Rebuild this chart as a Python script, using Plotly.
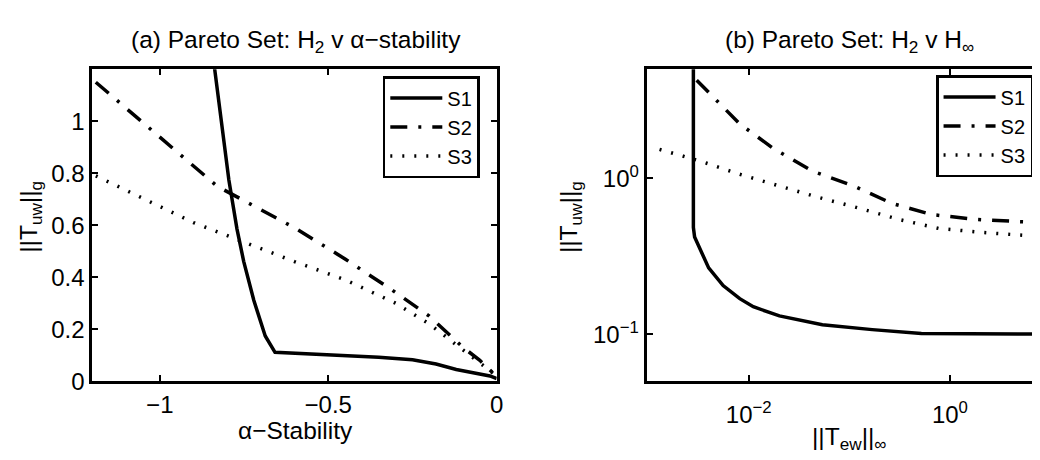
import plotly.graph_objects as go

# ---------------- data ----------------
series_names = ["S1", "S2", "S3"]

# (a) H2 vs alpha-stability
a_s1_x = [-0.842, -0.82, -0.795, -0.771, -0.751, -0.721, -0.687, -0.658, -0.5, -0.35, -0.25, -0.18, -0.12, -0.08, -0.02, 0.0]
a_s1_y = [1.25, 1.024, 0.774, 0.586, 0.461, 0.311, 0.174, 0.111, 0.102, 0.092, 0.082, 0.066, 0.045, 0.035, 0.02, 0.01]
a_s2_x = [-1.19, -0.83, -0.6, -0.45, -0.31, -0.2, -0.1, -0.05, -0.01]
a_s2_y = [1.15, 0.75, 0.59, 0.47, 0.35, 0.25, 0.13, 0.08, 0.03]
a_s3_x = [-1.19, -0.9, -0.6, -0.45, -0.3, -0.2, -0.1, -0.04, 0.0]
a_s3_y = [0.79, 0.61, 0.46, 0.39, 0.30, 0.22, 0.12, 0.06, 0.02]

# (b) H2 vs Hinf
b_s1_x = [0.00282, 0.00282, 0.0029, 0.00355, 0.0040, 0.00557, 0.00815, 0.0111, 0.0202, 0.054, 0.169, 0.52, 10.0]
b_s1_y = [6.0, 0.484, 0.42, 0.315, 0.266, 0.205, 0.169, 0.150, 0.131, 0.115, 0.107, 0.101, 0.100]
b_s2_x = [0.00304, 0.00815, 0.0174, 0.043, 0.107, 0.265, 0.66, 1.77, 4.9, 10.0]
b_s2_y = [4.25, 2.23, 1.56, 1.11, 0.90, 0.69, 0.585, 0.545, 0.527, 0.52]
b_s3_x = [0.0013, 0.00328, 0.00815, 0.0187, 0.047, 0.124, 0.309, 0.77, 2.04, 7.2, 10.0]
b_s3_y = [1.53, 1.29, 1.06, 0.90, 0.76, 0.644, 0.545, 0.477, 0.45, 0.425, 0.42]

a_xticks = [-1, -0.5, 0]
a_yticks = [0, 0.2, 0.4, 0.6, 0.8, 1]
a_yticktext = ["0", "0.2", "0.4", "0.6", "0.8", "1"]
b_xticks = [0.01, 1]
b_xticktext = ["10<sup>−2</sup>", "10<sup>0</sup>"]
b_yticks = [0.1, 1]
b_yticktext = ["10<sup>−1</sup>", "10<sup>0</sup>"]

title_a = "(a) Pareto Set: H<sub>2</sub> v α−stability"
title_b = "(b) Pareto Set: H<sub>2</sub> v H<sub>∞</sub>"
xlabel_a = "α−Stability"
xlabel_b = "||T<sub>ew</sub>||<sub>∞</sub>"
ylabel = "||T<sub>uw</sub>||<sub>g</sub>"

# ---------------- styling ----------------
FONT = "Liberation Sans, Arial, Helvetica, sans-serif"
W, H = 1040, 460
dashes = ["solid", "17px,11px,3px,11px", "2px,10px"]
LW = 3.5

fig = go.Figure()
a_data = [(a_s1_x, a_s1_y), (a_s2_x, a_s2_y), (a_s3_x, a_s3_y)]
b_data = [(b_s1_x, b_s1_y), (b_s2_x, b_s2_y), (b_s3_x, b_s3_y)]
for name, (x, y), d in zip(series_names, a_data, dashes):
    fig.add_trace(go.Scatter(x=x, y=y, mode="lines", name=name, xaxis="x", yaxis="y",
                             line=dict(color="black", width=LW, dash=d), legend="legend"))
for name, (x, y), d in zip(series_names, b_data, dashes):
    fig.add_trace(go.Scatter(x=x, y=y, mode="lines", name=name, xaxis="x2", yaxis="y2",
                             line=dict(color="black", width=LW, dash=d), legend="legend2"))

ydom = [1 - 384 / H, 1 - 63 / H]
axis_common = dict(showgrid=False, zeroline=False, showline=True, linecolor="black", linewidth=3,
                   ticks="inside", ticklen=6, tickwidth=2, tickcolor="black",
                   tickfont=dict(family=FONT, size=24, color="black"))

leg_common = dict(xanchor="right", yanchor="top", bgcolor="white", bordercolor="black", borderwidth=2.5,
                  font=dict(family=FONT, size=20, color="black"), itemwidth=52)

fig.update_layout(
    width=W, height=H, margin=dict(l=0, r=0, t=0, b=0),
    paper_bgcolor="white", plot_bgcolor="white",
    font=dict(family=FONT, size=24, color="black"),
    xaxis=dict(domain=[85 / W, 492 / W], range=[-1.2, 0], tickmode="array", tickvals=a_xticks,
               mirror="ticks", anchor="y", **axis_common),
    yaxis=dict(domain=ydom, range=[0, 1.2], tickmode="array", tickvals=a_yticks, ticktext=a_yticktext,
               mirror="ticks", anchor="x", **axis_common),
    xaxis2=dict(domain=[643 / W, 1.0], type="log", range=[-3.014, 0.905], tickmode="array",
                tickvals=b_xticks, ticktext=b_xticktext, mirror="ticks", anchor="y2",
                ticklabelstandoff=10, **axis_common),
    yaxis2=dict(domain=ydom, type="log", range=[-1.301, 0.699], tickmode="array",
                tickvals=b_yticks, ticktext=b_yticktext, mirror=False, anchor="x2", **axis_common),
    legend=dict(x=475 / W, y=1 - 70 / H, **leg_common),
    legend2=dict(x=1032 / W, y=1 - 69 / H, **leg_common),
    showlegend=True,
)

ann_font = dict(family=FONT, size=24.5, color="black")
anns = [
    dict(text=title_a, x=290 / W, y=1 - 34 / H),
    dict(text=title_b, x=847 / W, y=1 - 34 / H),
    dict(text=xlabel_a, x=289 / W, y=1 - 435 / H),
    dict(text=xlabel_b, x=847 / W, y=1 - 443 / H),
    dict(text=ylabel, x=23 / W, y=1 - 215 / H, textangle=-90),
    dict(text=ylabel, x=567 / W, y=1 - 215 / H, textangle=-90),
]
for a in anns:
    fig.add_annotation(xref="paper", yref="paper", showarrow=False, xanchor="center", yanchor="middle",
                       font=ann_font, **a)

fig.write_html("out.html")
